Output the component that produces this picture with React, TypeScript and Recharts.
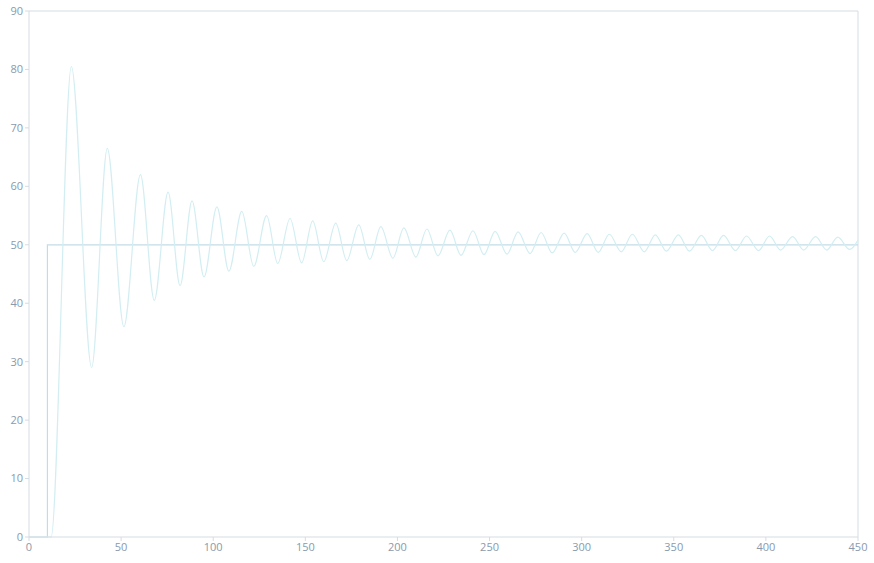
import React from 'react';
import { LineChart, Line, XAxis, YAxis, ReferenceLine } from 'recharts';

// x ticks and y ticks
const xTicks = [0, 50, 100, 150, 200, 250, 300, 350, 400, 450];
const yTicks = [0, 10, 20, 30, 40, 50, 60, 70, 80, 90];

// setpoint step
const setpoint = [
  { x: 0, y: 0 },
  { x: 10, y: 0 },
  { x: 10, y: 50 },
  { x: 450, y: 50 },
];

// response: start, then peaks / troughs
const responseX = [
  0, 12, 23, 34, 42.5, 51.5, 60.5, 68, 75.5, 82, 88.5, 95, 102, 108.5, 115.5, 122, 129, 135,
  141.7, 148, 154, 160, 166.5, 172.5, 179, 185, 191, 197.5, 203.5, 210, 216, 222, 228.5, 234.5,
  241, 247, 253, 259.5, 265.5, 272, 278, 284, 290.5, 296.5, 303, 309, 315, 321.5, 327.5, 334,
  340, 346, 352.5, 358.5, 365, 371, 377, 383.5, 389.5, 396, 402, 408, 414.5, 420.5, 427, 433,
  439, 445.5, 450,
];
const responseY = [
  0, 0, 80.5, 29, 66.5, 36, 62, 40.5, 59, 43, 57.5, 44.5, 56.5, 45.5, 55.7, 46.3, 55, 46.8,
  54.5, 46.9, 54.1, 47.1, 53.7, 47.3, 53.4, 47.5, 53.1, 47.7, 52.9, 47.9, 52.7, 48.1, 52.5, 48.2,
  52.4, 48.3, 52.3, 48.4, 52.2, 48.5, 52.1, 48.6, 52.0, 48.7, 51.9, 48.7, 51.8, 48.8, 51.8, 48.8,
  51.7, 48.9, 51.7, 48.9, 51.6, 49.0, 51.6, 49.0, 51.5, 49.0, 51.5, 49.1, 51.4, 49.1, 51.4, 49.1,
  51.3, 49.2, 50.8,
];

const response = responseX.map((x, i) => ({ x, y: responseY[i] }));

const axisColor = '#d6dce3';
const tickStyle = { fill: '#8a9aac', fontSize: 11, fontFamily: 'Open Sans, sans-serif' };

export default function App() {
  return (
    <div style={{ position: 'absolute', left: 0, top: 0, background: '#fff' }}>
      <LineChart width={874} height={563} margin={{ top: 11, right: 16, bottom: 0, left: 0 }}>
        <XAxis
          xAxisId="bottom"
          dataKey="x"
          type="number"
          domain={[0, 450]}
          ticks={xTicks}
          height={26}
          stroke={axisColor}
          tick={tickStyle}
          tickSize={4}
          tickMargin={2}
          allowDuplicatedCategory={false}
        />
        <YAxis
          yAxisId="left"
          type="number"
          domain={[0, 90]}
          ticks={yTicks}
          width={29}
          stroke={axisColor}
          tick={tickStyle}
          tickSize={4}
          tickMargin={2}
        />
        {/* box border on top and right */}
        <ReferenceLine xAxisId="bottom" yAxisId="left" y={90} stroke={axisColor} />
        <ReferenceLine xAxisId="bottom" yAxisId="left" x={450} stroke={axisColor} />
        <Line
          xAxisId="bottom"
          yAxisId="left"
          data={setpoint}
          dataKey="y"
          type="linear"
          stroke="#c4dbe6"
          strokeWidth={1.2}
          dot={false}
          isAnimationActive={false}
        />
        <Line
          xAxisId="bottom"
          yAxisId="left"
          data={response}
          dataKey="y"
          type="monotone"
          stroke="#d2eef2"
          strokeWidth={1.2}
          dot={false}
          isAnimationActive={false}
        />
      </LineChart>
    </div>
  );
}
